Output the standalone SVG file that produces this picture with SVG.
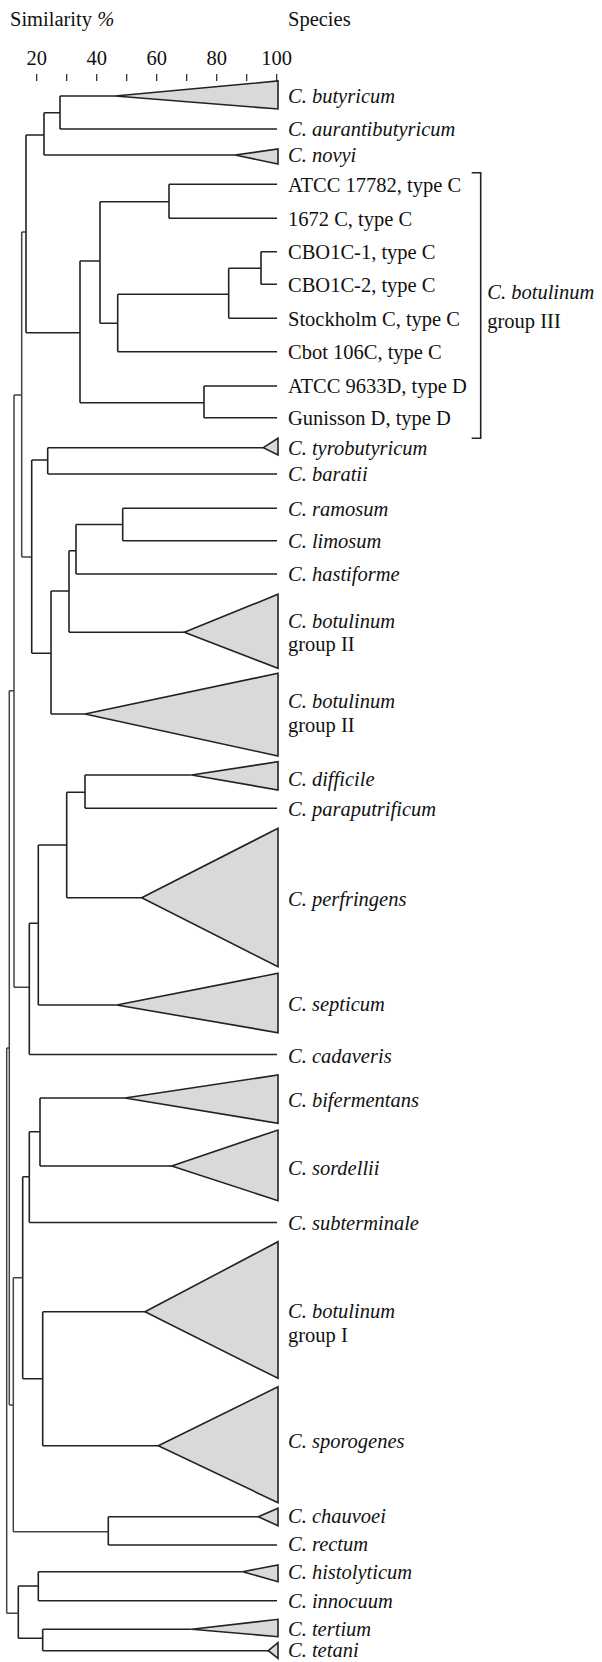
<svg xmlns="http://www.w3.org/2000/svg" width="602" height="1662" viewBox="0 0 602 1662">
<style>
text{font-family:"Liberation Serif","Times New Roman",serif;font-size:20.5px;fill:#111}
.i{font-style:italic}
.tk{text-anchor:middle}
.br{fill:none;stroke:#222;stroke-width:1.6}
.sp{fill:none;stroke:#444;stroke-width:1.5}
.tri{fill:#d9d9d9;stroke:#222;stroke-width:1.6;stroke-linejoin:miter}
.tick{stroke:#222;stroke-width:1.2}
</style>
<rect width="602" height="1662" fill="#fff"/>
<g id="axis">
<text x="10" y="26">Similarity <tspan class="i">%</tspan></text>
<text x="288" y="26">Species</text>
<text class="tk" x="36.7" y="65">20</text>
<text class="tk" x="96.7" y="65">40</text>
<text class="tk" x="156.7" y="65">60</text>
<text class="tk" x="216.7" y="65">80</text>
<text class="tk" x="276.7" y="65">100</text>
<path class="tick" d="M36.7 74V81M66.7 74V81M96.7 74V81M126.7 74V81M156.7 74V81M186.7 74V81M216.7 74V81M246.7 74V81M276.7 74V81"/>
</g>
<g id="connectors">
<path class="br" d="M60 96V129M60 96H115M60 129H277"/>
<path class="br" d="M44 112.7V155M44 112.7H60M44 155H235"/>
<path class="br" d="M26 135V332.7M26 135H44M26 332.7H80"/>
<path class="br" d="M169 184.3V218.3M169 184.3H277M169 218.3H277"/>
<path class="br" d="M261 251.7V284.3M261 251.7H277M261 284.3H277"/>
<path class="br" d="M228.7 268.3V318.3M228.7 268.3H261M228.7 318.3H277"/>
<path class="br" d="M117.7 294.3V351.7M117.7 294.3H228.7M117.7 351.7H277"/>
<path class="br" d="M100 201.7V323.3M100 201.7H169M100 323.3H117.7"/>
<path class="br" d="M204 386V417.7M204 386H277M204 417.7H277"/>
<path class="br" d="M80 261V402.7M80 261H100M80 402.7H204"/>
<path class="sp" d="M21.7 232V557M21.7 232H26M21.7 557H31.7"/>
<path class="br" d="M47.7 447.7V474M47.7 447.7H263.3M47.7 474H277"/>
<path class="br" d="M122.7 508.3V540.7M122.7 508.3H277M122.7 540.7H277"/>
<path class="br" d="M76 524.5V574M76 524.5H122.7M76 574H277"/>
<path class="br" d="M69 550.7V632.3M69 550.7H76M69 632.3H184.3"/>
<path class="br" d="M51 591V714M51 591H69M51 714H85"/>
<path class="br" d="M31.7 460V653.3M31.7 460H47.7M31.7 653.3H51"/>
<path class="sp" d="M14 395V987.3M14 395H21.7M14 987.3H29.3"/>
<path class="br" d="M85 775V808.3M85 775H191.7M85 808.3H277"/>
<path class="br" d="M66.7 792.3V897.7M66.7 792.3H85M66.7 897.7H141.7"/>
<path class="br" d="M38.3 845V1005M38.3 845H66.7M38.3 1005H116.7"/>
<path class="br" d="M29.3 923.3V1054.5M29.3 923.3H38.3M29.3 1054.5H277"/>
<path class="sp" d="M9.3 690.7V1405M9.3 690.7H14M9.3 1405H13.3"/>
<path class="br" d="M40 1098V1166M40 1098H125M40 1166H171.7"/>
<path class="br" d="M29.3 1131.7V1222.5M29.3 1131.7H40M29.3 1222.5H277"/>
<path class="br" d="M42.7 1311.7V1445.7M42.7 1311.7H145M42.7 1445.7H158.3"/>
<path class="br" d="M22.7 1176.7V1378.7M22.7 1176.7H29.3M22.7 1378.7H42.7"/>
<path class="br" d="M108.3 1516.7V1545M108.3 1516.7H258.3M108.3 1545H277"/>
<path class="sp" d="M13.3 1277.7V1531.7M13.3 1277.7H22.7M13.3 1531.7H108.3"/>
<path class="br" d="M38.3 1571.7V1600.7M38.3 1571.7H242.7M38.3 1600.7H277"/>
<path class="br" d="M42.7 1629.3V1650.7M42.7 1629.3H191.7M42.7 1650.7H268.3"/>
<path class="br" d="M18.3 1586V1638.3M18.3 1586H38.3M18.3 1638.3H42.7"/>
<path class="sp" d="M6.7 1048V1613.3M6.7 1048H9.3M6.7 1613.3H18.3"/>
<path class="br" d="M471.7 172.7H480.7V438.3H471.7"/>
</g>
<g id="butyricum"><polygon class="tri" points="115,96 278,81 278,109"/><text class="i" x="288" y="102.5">C. butyricum</text></g>
<g id="aurantibutyricum"><text class="i" x="288" y="136">C. aurantibutyricum</text></g>
<g id="novyi"><polygon class="tri" points="235,155 278,149 278,164"/><text class="i" x="288" y="162">C. novyi</text></g>
<g id="atcc17782"><text x="288" y="191.5">ATCC 17782, type C</text></g>
<g id="c1672"><text x="288" y="225.5">1672 C, type C</text></g>
<g id="cbo1c1"><text x="288" y="259">CBO1C-1, type C</text></g>
<g id="cbo1c2"><text x="288" y="291.5">CBO1C-2, type C</text></g>
<g id="stockholm"><text x="288" y="325.5">Stockholm C, type C</text></g>
<g id="cbot106c"><text x="288" y="359">Cbot 106C, type C</text></g>
<g id="atcc9633d"><text x="288" y="393">ATCC 9633D, type D</text></g>
<g id="gunisson"><text x="288" y="425">Gunisson D, type D</text></g>
<g id="groupIII"><text class="i" x="487.3" y="299">C. botulinum</text><text x="487.3" y="327.5">group III</text></g>
<g id="tyrobutyricum"><polygon class="tri" points="263.3,447.7 278,438.3 278,455"/><text class="i" x="288" y="455">C. tyrobutyricum</text></g>
<g id="baratii"><text class="i" x="288" y="481">C. baratii</text></g>
<g id="ramosum"><text class="i" x="288" y="515.5">C. ramosum</text></g>
<g id="limosum"><text class="i" x="288" y="548">C. limosum</text></g>
<g id="hastiforme"><text class="i" x="288" y="581">C. hastiforme</text></g>
<g id="groupII-a"><polygon class="tri" points="184.3,632.3 278,594.3 278,668.3"/><text class="i" x="288" y="628">C. botulinum</text><text x="288" y="651">group II</text></g>
<g id="groupII-b"><polygon class="tri" points="85,714 278,673.3 278,756"/><text class="i" x="288" y="707.5">C. botulinum</text><text x="288" y="732">group II</text></g>
<g id="difficile"><polygon class="tri" points="191.7,775 278,761.7 278,790"/><text class="i" x="288" y="786">C. difficile</text></g>
<g id="paraputrificum"><text class="i" x="288" y="815.5">C. paraputrificum</text></g>
<g id="perfringens"><polygon class="tri" points="141.7,897.7 278,828.3 278,966.7"/><text class="i" x="288" y="905.5">C. perfringens</text></g>
<g id="septicum"><polygon class="tri" points="116.7,1005 278,973.3 278,1032.7"/><text class="i" x="288" y="1010.5">C. septicum</text></g>
<g id="cadaveris"><text class="i" x="288" y="1062.5">C. cadaveris</text></g>
<g id="bifermentans"><polygon class="tri" points="125,1098 278,1075 278,1123.3"/><text class="i" x="288" y="1106.5">C. bifermentans</text></g>
<g id="sordellii"><polygon class="tri" points="171.7,1166 278,1130 278,1200.7"/><text class="i" x="288" y="1175">C. sordellii</text></g>
<g id="subterminale"><text class="i" x="288" y="1230">C. subterminale</text></g>
<g id="groupI"><polygon class="tri" points="145,1311.7 278,1241.7 278,1378.3"/><text class="i" x="288" y="1318">C. botulinum</text><text x="288" y="1341.5">group I</text></g>
<g id="sporogenes"><polygon class="tri" points="158.3,1445.7 278,1386.7 278,1502.7"/><text class="i" x="288" y="1448">C. sporogenes</text></g>
<g id="chauvoei"><polygon class="tri" points="258.3,1516.7 278,1508.3 278,1525.7"/><text class="i" x="288" y="1523">C. chauvoei</text></g>
<g id="rectum"><text class="i" x="288" y="1550.5">C. rectum</text></g>
<g id="histolyticum"><polygon class="tri" points="242.7,1571.7 278,1565 278,1581.7"/><text class="i" x="288" y="1579">C. histolyticum</text></g>
<g id="innocuum"><text class="i" x="288" y="1607.5">C. innocuum</text></g>
<g id="tertium"><polygon class="tri" points="191.7,1629.3 278,1619.3 278,1636.7"/><text class="i" x="288" y="1636">C. tertium</text></g>
<g id="tetani"><polygon class="tri" points="268.3,1650.7 278,1642.7 278,1658.3"/><text class="i" x="288" y="1657">C. tetani</text></g>
</svg>
